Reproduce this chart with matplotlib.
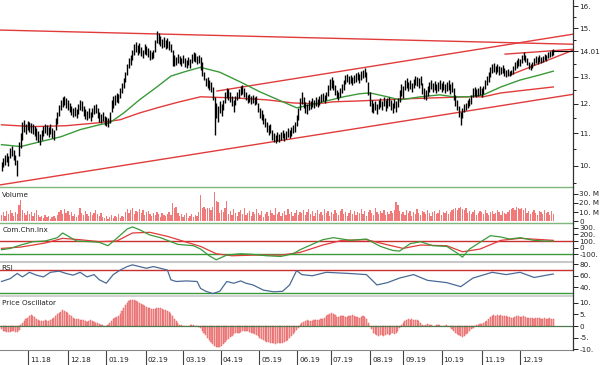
import matplotlib
matplotlib.use('Agg')
import matplotlib.pyplot as plt
from matplotlib.ticker import FixedLocator, NullFormatter, FixedFormatter
from matplotlib.lines import Line2D
import matplotlib.transforms as mtransforms

# ---------------- data ----------------
highs = [
10.12,10.24,10.33,10.39,10.30,10.54,10.61,10.48,10.33,10.18,
10.73,11.00,11.38,11.45,11.31,11.41,11.38,11.35,11.31,11.25,
11.18,11.08,10.98,11.12,11.25,11.31,11.28,11.22,11.31,11.18,
11.12,11.52,11.72,11.96,12.14,12.25,12.28,12.21,12.14,12.03,
11.93,11.86,11.89,11.82,12.00,12.14,12.10,11.93,11.82,11.75,
11.86,11.72,11.86,11.96,12.00,11.86,11.72,11.65,11.72,11.58,
11.55,11.52,11.72,12.14,12.28,12.32,12.39,12.36,12.57,12.76,
12.94,13.17,13.48,13.72,13.85,14.05,14.30,14.38,14.26,14.34,
14.17,14.05,14.30,14.22,14.13,14.05,13.97,14.05,14.47,14.86,
14.77,14.64,14.51,14.60,14.47,14.55,14.43,14.30,14.05,13.85,
13.77,13.89,13.81,13.72,13.85,13.72,13.64,13.77,13.68,13.89,
13.97,13.93,13.81,13.85,13.77,13.56,13.17,12.94,12.98,12.87,
12.79,12.61,12.25,12.03,11.93,12.10,12.00,12.14,12.43,12.57,
12.54,12.43,12.28,12.14,12.28,12.43,12.54,12.65,12.68,12.57,
12.43,12.32,12.36,12.28,12.32,12.25,12.28,12.03,11.86,11.79,
11.65,11.52,11.38,11.28,11.31,11.12,11.02,10.95,11.05,10.98,
11.05,11.12,11.02,11.08,11.18,11.12,11.22,11.28,11.38,11.62,
11.86,12.21,12.43,12.25,12.07,12.00,12.14,12.10,12.21,12.14,
12.25,12.17,12.28,12.36,12.39,12.32,12.43,12.68,12.91,12.98,
12.87,12.68,12.50,12.43,12.57,12.72,12.87,13.06,13.09,13.02,
13.06,12.98,13.06,13.13,13.17,13.09,13.21,13.25,13.33,13.17,
12.79,12.43,12.14,12.03,12.10,12.00,12.14,12.21,12.10,12.25,
12.14,12.21,12.25,12.14,12.03,12.17,12.10,12.21,12.50,12.72,
12.65,12.87,12.94,12.79,12.87,12.76,12.91,13.02,12.98,12.94,
13.02,12.76,12.57,12.50,12.65,12.79,12.87,12.76,12.83,12.72,
12.79,12.87,12.76,12.83,12.72,12.79,12.87,12.72,12.79,12.57,
12.32,12.14,11.93,11.72,11.86,12.00,12.03,12.14,12.21,12.32,
12.57,12.61,12.54,12.57,12.65,12.57,12.65,12.87,13.02,13.17,
13.36,13.48,13.52,13.40,13.48,13.40,13.36,13.44,13.33,13.25,
13.29,13.21,13.25,13.40,13.56,13.64,13.72,13.68,13.85,13.97,
13.85,13.72,13.56,13.48,13.56,13.72,13.81,13.77,13.85,13.77,
13.81,13.89,13.85,13.97,14.01,14.05,14.09]

lows = [
9.85,9.97,10.03,10.12,10.00,10.24,10.30,10.18,10.03,9.71,
10.30,10.55,10.79,11.05,10.98,11.12,11.05,11.02,10.98,10.92,
10.79,10.73,10.64,10.79,10.92,11.02,10.95,10.89,10.98,10.86,
10.79,11.12,11.31,11.58,11.79,11.89,11.96,11.86,11.79,11.72,
11.62,11.55,11.58,11.52,11.65,11.79,11.75,11.58,11.48,11.45,
11.52,11.41,11.55,11.65,11.68,11.52,11.38,11.35,11.41,11.28,
11.25,11.22,11.35,11.72,11.86,11.96,12.07,12.03,12.21,12.39,
12.57,12.79,13.06,13.33,13.44,13.64,13.85,13.97,13.85,13.93,
13.81,13.72,13.89,13.85,13.77,13.64,13.68,13.72,13.97,14.34,
14.30,14.22,14.13,14.17,14.09,14.13,14.05,13.97,13.40,13.40,
13.44,13.52,13.48,13.40,13.52,13.36,13.33,13.44,13.33,13.52,
13.60,13.56,13.48,13.52,13.25,13.02,12.87,12.64,12.57,12.50,
12.43,12.14,10.95,11.52,11.38,11.68,11.58,11.79,12.03,12.21,
12.14,12.07,11.93,11.72,11.96,12.14,12.21,12.32,12.36,12.25,
12.14,12.03,12.07,12.00,12.03,11.96,12.00,11.72,11.52,11.45,
11.31,11.22,11.05,10.95,11.02,10.79,10.73,10.70,10.76,10.73,
10.79,10.86,10.76,10.82,10.89,10.86,10.92,11.02,11.05,11.25,
11.45,11.79,12.00,11.86,11.68,11.65,11.79,11.82,11.89,11.86,
11.93,11.89,11.96,12.07,12.10,12.03,12.14,12.28,12.50,12.57,
12.50,12.32,12.21,12.14,12.25,12.39,12.50,12.72,12.79,12.72,
12.76,12.68,12.76,12.79,12.87,12.76,12.87,12.94,12.98,12.79,
12.32,11.93,11.72,11.68,11.79,11.65,11.82,11.89,11.79,11.93,
11.75,11.86,11.93,11.79,11.68,11.86,11.72,11.89,12.07,12.28,
12.21,12.50,12.57,12.46,12.54,12.43,12.57,12.68,12.65,12.57,
12.68,12.36,12.17,12.14,12.28,12.43,12.54,12.43,12.50,12.39,
12.46,12.54,12.43,12.50,12.39,12.46,12.50,12.36,12.43,12.14,
11.93,11.79,11.55,11.28,11.52,11.72,11.79,11.86,11.93,12.00,
12.25,12.28,12.25,12.28,12.32,12.25,12.36,12.54,12.68,12.79,
12.98,13.13,13.17,13.09,13.17,13.06,13.09,13.13,13.02,12.98,
13.02,13.02,13.06,13.09,13.25,13.33,13.40,13.40,13.52,13.64,
13.56,13.44,13.29,13.25,13.33,13.44,13.52,13.48,13.56,13.52,
13.56,13.64,13.60,13.72,13.77,13.81,13.85]

volume_m = [
7,10,6,11,8,12,9,6,10,8,18,23,12,
9,7,11,8,10,6,9,12,7,
5,6,4,7,5,6,3,5,6,4,7,
10,12,8,13,9,11,7,10,
6,8,5,7,15,
9,7,11,8,6,10,7,9,12,8,6,9,
5,4,6,3,5,7,4,6,5,8,4,6,5,
10,13,9,12,14,8,11,10,13,9,12,7,10,11,
8,6,9,7,10,8,5,9,7,6,8,10,7,
20,14,16,9,
6,8,5,7,9,4,6,8,5,7,6,10,
29,
14,16,13,15,14,12,16,
32,22,21,9,12,10,14,22,
8,11,7,13,9,6,10,12,8,14,7,9,11,6,10,8,13,9,7,11,5,8,10,6,12,9,7,14,8,10,6,9,11,7,13,8,10,6,9,12,7,10,
9,12,7,10,13,8,11,6,9,12,8,10,7,13,9,11,6,10,8,12,9,7,11,13,8,10,6,9,12,8,11,7,10,9,13,8,11,6,10,12,9,7,14,10,8,11,9,12,7,10,8,11,9,
12,21,18,11,
8,10,7,12,9,11,6,10,8,13,9,7,11,10,8,12,9,6,10,11,8,9,12,7,10,
9,11,8,10,12,
13,15,12,14,16,13,12,14,
9,11,8,10,12,7,9,11,10,8,12,9,7,10,11,8,9,12,10,7,11,9,8,10,12,
13,15,12,16,14,13,15,12,14,
9,11,8,10,12,9,7,11,10,8,12,9,10,7,11,8]

oscillator = [
-1.5,-2,-2.3,-2.6,-2.4,-2.5,-2.2,-2,-2.4,-2.6,-1.8,
0.5,
1.2,2,2.8,3.5,4.2,4.6,4.4,
3.8,3.2,2.6,2.2,2,2.3,2.6,2.2,2,2.5,
3,3.6,4.3,5,5.6,6.2,6.7,6.5,6,
5.4,4.8,4.2,3.6,3.2,3,2.8,2.5,2.7,2.4,2.1,1.8,2.2,2.6,2.3,1.9,1.5,1.2,0.9,0.6,0.4,0.2,0.1,
0.5,1.2,2,3,3.6,4,4.4,5.2,
6.4,7.8,9,10,10.8,11.2,11.3,11,10.6,
10.2,9.8,9.4,9,8.6,8.2,7.8,7.6,7.4,7.2,7.3,7.6,
7.8,7.6,7.2,7,6.8,6.5,6,
5.2,4.2,3.2,2.2,1.2,0.5,
0.3,0.2,-0.1,-0.2,0.1,0.3,0.4,0.3,0.2,0,-0.3,
-1,-2,-3,-4,-5,-6,-7,-7.8,-8.5,-9,-9.2,-9,
-8.5,-7.8,-7,-6.2,-5.4,-4.8,-4.2,-3.6,-3.2,-3,-2.8,
-2.6,-2.3,-2.1,-2,-2.2,-2.5,-2.8,-3.2,
-3.6,-4,-4.5,-5,-5.5,-6,-6.4,-6.8,-7,-7.2,-7.4,-7.5,-7.6,-7.5,-7.4,-7.3,-7.1,-6.8,-6.4,-5.8,-5,-4.2,-3.4,-2.6,-1.8,
-0.8,0.3,1.2,1.8,2.2,2.4,2.2,2,2.3,2.5,2.7,2.4,2.6,2.9,3.2,3.6,4.2,4.8,5.2,5.4,5.2,
4.6,4,3.8,4.2,4.5,4.3,4,3.8,4.1,4.4,4.6,4.3,4,3.8,3.6,3.9,4.1,3.7,3,
1.5,0,-1.5,-2.8,-3.6,-4,-4.2,-4,-3.8,-4.1,-3.9,-3.6,-3.8,-3.4,-3.2,-3.5,-3,-2.2,-1,
0.5,1.5,2.2,2.6,2.8,2.7,2.9,2.6,2.4,2.7,2.2,1.4,0.6,
0.2,0.5,0.8,0.6,0.3,0.1,0.2,0.4,0.6,0.3,0.1,-0.1,0.2,0.3,0.1,
-0.5,-1.2,-2,-2.8,-3.4,-3.9,-4.3,-4.6,-4.2,-3.6,-3,-2.2,-1.5,-0.8,
-0.2,0.3,0.6,0.8,1,1.2,1.6,2.2,
3,3.8,4.3,4.6,4.5,4.7,4.4,4.6,4.3,4.5,4.2,4,
3.8,3.5,3.6,3.9,4.2,4.1,3.8,3.9,4.1,3.8,3.5,3.4,3.6,3.3,3.1,3.4,3.6,3.3,3.1,3.2,3.4,3,3.1,3.3,3.2,3]

ma_green_idx = [0,11,22,34,45,56,62,70,79,89,97,106,114,125,137,148,160,169,177,186,196,205,211,221,228,240,251,259,267,276,286,297,308,316]
ma_green = [10.64,10.58,10.73,10.89,11.12,11.28,11.35,11.68,12.14,12.61,13.02,13.21,13.36,13.17,12.79,12.43,12.10,11.86,11.96,12.10,12.25,12.36,12.39,12.25,12.14,12.25,12.32,12.25,12.25,12.32,12.61,12.87,13.06,13.21]

ma_red_idx = [0,18,37,56,68,79,91,102,114,133,152,167,181,190,204,219,228,247,267,276,286,301,316]
ma_red = [11.28,11.22,11.25,11.35,11.45,11.68,11.89,12.07,12.25,12.21,12.14,12.03,12.00,12.07,12.10,12.14,12.17,12.21,12.25,12.25,12.39,12.50,12.61]

# straight trend lines: (start index, start price, end index, end price)
trend_x0 = [-0.86, 123.4, -0.86, 288.4, 291.2]
trend_p0 = [14.91, 12.46, 9.45, 13.89, 13.06]
trend_x1 = [327.3, 327.3, 327.3, 327.3, 327.3]
trend_p1 = [14.30, 14.73, 12.34, 14.09, 14.05]

cci_idx = [0,5,11,18,25,32,35,39,43,51,56,61,66,72,75,79,85,91,95,101,110,114,119,123,129,137,144,152,160,167,171,177,184,190,200,209,217,224,228,234,240,247,255,261,264,268,274,280,286,291,297,305,311,316]
cci = [-30,-10,40,90,100,150,220,160,100,90,80,30,140,280,310,270,190,150,110,50,30,-20,-120,-180,-110,-90,-100,-120,-130,-90,-30,40,120,150,110,130,20,-40,-50,60,90,30,20,-80,-140,-20,80,180,160,130,150,110,100,100]
cci_sig_idx = [0,11,25,35,45,56,66,75,85,95,105,114,123,132,145,160,171,184,195,209,220,230,240,255,264,274,286,297,310,316]
cci_sig = [-10,10,70,140,120,90,100,220,230,170,90,20,-90,-120,-110,-110,-70,40,110,120,50,-10,40,30,-60,-20,110,140,120,110]

rsi_idx = [0,5,9,12,16,20,24,28,33,37,41,45,49,53,56,60,64,68,72,75,79,83,87,91,95,97,100,106,112,114,117,121,125,129,133,137,140,144,150,156,161,165,169,172,178,186,199,209,215,221,228,236,244,255,263,270,281,289,297,305,314,316]
rsi = [50,55,64,58,66,61,58,66,68,64,61,66,58,62,53,47,62,70,76,79,76,73,76,73,70,53,50,51,50,38,33,29,33,50,47,51,47,44,35,32,33,44,69,62,60,66,64,62,44,48,56,62,52,48,41,56,66,62,66,57,62,63]

month_ticks = [15, 38, 60, 82.5, 104, 125.5, 147.5, 169.5, 188.5, 211, 230, 252, 275, 297]
month_labels = ['11.18', '12.18', '01.19', '02.19', '03.19', '04.19', '05.19',
                '06.19', '07.19', '08.19', '09.19', '10.19', '11.19', '12.19']
last_price = 14.01

# ---------------- layout ----------------
W, H = 605, 365
AXR = 573
XMIN, XMAX = -0.86, 327.3
fig = plt.figure(figsize=(W / 100, H / 100), dpi=100)
fig.patch.set_facecolor('white')

TXT = '#222222'
RED = '#e23b3b'
GREEN = '#3a9a3a'
BARC = '#f07a7a'
FS = 5.2


def panel(top, bottom, fs=FS):
    ax = fig.add_axes([0, 1 - bottom / H, AXR / W, (bottom - top) / H])
    ax.set_xlim(XMIN, XMAX)
    for s in ['left', 'top', 'bottom', 'right']:
        ax.spines[s].set_visible(False)
    ax.yaxis.tick_right()
    ax.tick_params(axis='y', direction='out', length=3.5, width=0.7,
                   labelsize=fs, pad=1.0, colors=TXT)
    ax.tick_params(axis='x', bottom=False, labelbottom=False)
    ax.patch.set_alpha(0)
    return ax


idx = list(range(min(len(highs), len(lows))))

# main price panel
ax = panel(0, 186)
ax.set_yscale('log')
ax.set_ylim(9.42, 16.29)
for x0, p0, x1, p1 in zip(trend_x0, trend_p0, trend_x1, trend_p1):
    ax.plot([x0, x1], [p0, p1], color=RED, lw=1.0)
ax.plot(ma_red_idx, ma_red, color=RED, lw=1.0)
ax.plot(ma_green_idx, ma_green, color=GREEN, lw=1.0)
ax.vlines(idx, lows[:len(idx)], highs[:len(idx)], color='black', lw=1.0)
ax.hlines(last_price, idx[-1], XMAX, color='black', lw=0.8)
ax.yaxis.set_major_locator(FixedLocator([10, 11, 12, 13, last_price, 15, 16]))
ax.yaxis.set_major_formatter(FixedFormatter(['10.', '11.', '12.', '13.', '14.01', '15.', '16.']))
ax.yaxis.set_minor_locator(FixedLocator([9.5, 10.5, 11.5, 12.5, 13.5, 14.5, 15.5]))
ax.yaxis.set_minor_formatter(NullFormatter())
ax.tick_params(axis='y', which='minor', direction='out', length=2, width=0.7, colors=TXT)

# volume panel
av = panel(188, 222)
nv = len(volume_m)
av.bar(range(nv), volume_m, width=0.75, color=BARC, edgecolor='none')
av.set_ylim(-0.54, 36)
av.set_yticks([0, 10, 20, 30])
av.set_yticklabels(['0', '10. M', '20. M', '30. M'])
av.text(0.004, 0.80, 'Volume', transform=av.transAxes, fontsize=FS, color=TXT, va='center')

# CCI panel
ac = panel(223, 261)
ac.set_ylim(-198, 369)
ac.axhline(100, color='#c83030', lw=1.0)
ac.axhline(-100, color=GREEN, lw=1.0)
ac.plot(cci_sig_idx, cci_sig, color=RED, lw=0.9)
ac.plot(cci_idx, cci, color=GREEN, lw=0.9)
ac.set_yticks([-100, 0, 100, 200, 300])
ac.set_yticklabels(['-100.', '0', '100.', '200.', '300.'])
ac.text(0.004, 0.82, 'Com.Chn.Inx', transform=ac.transAxes, fontsize=FS, color=TXT, va='center')

# RSI panel
ar = panel(263, 295)
ar.set_ylim(26.5, 82.2)
ar.axhline(70, color='#c83030', lw=1.0)
ar.axhline(30, color=GREEN, lw=1.0)
ar.plot(rsi_idx, rsi, color='#4a6a96', lw=0.9)
ar.set_yticks([40, 60, 80])
ar.set_yticklabels(['40.', '60.', '80.'])
ar.text(0.002, 0.85, 'RSI', transform=ar.transAxes, fontsize=FS, color=TXT, va='center')

# Price oscillator panel
ao = panel(297, 350)
no = len(oscillator)
ao.set_ylim(-10.3, 12.45)
ao.bar(range(no), oscillator, width=0.65, color='#f39a9a', edgecolor='#e45a5a', lw=0.35)
ao.axhline(0, color='#4f7a4f', lw=0.9)
ao.set_yticks([-10, -5, 0, 5, 10])
ao.set_yticklabels(['-10.', '-5.', '0', '5.', '10.'])
ao.text(0.004, 0.88, 'Price Oscillator', transform=ao.transAxes, fontsize=FS, color=TXT, va='center')
ao.spines['bottom'].set_visible(True)
ao.spines['bottom'].set_color('#888888')
ao.spines['bottom'].set_linewidth(0.8)
ao.set_xticks(month_ticks)
ao.tick_params(axis='x', bottom=True, labelbottom=False, direction='out',
               length=11, width=0.8, color='#444444')
trans = mtransforms.blended_transform_factory(ao.transData, ao.transAxes)
for pos, lab in zip(month_ticks, month_labels):
    ao.text(pos + 1.2, -0.19, lab, transform=trans, fontsize=FS, color=TXT,
            ha='left', va='center')


# separators and right axis line (figure pixel coordinates)
def fig_hline(ypix, color, lw=1.0):
    fig.add_artist(Line2D([0, AXR / W], [1 - ypix / H, 1 - ypix / H],
                          color=color, lw=lw, transform=fig.transFigure))


fig_hline(187, '#7fb77f')
fig_hline(222.5, '#7fb77f')
fig_hline(262, '#c8c8c8', 1.5)
fig_hline(296, '#c8c8c8', 1.2)
fig.add_artist(Line2D([AXR / W, AXR / W], [1 - 350 / H, 1.0], color='#333333',
                      lw=0.9, transform=fig.transFigure))

fig.savefig('out.png', dpi=100, facecolor='white')
